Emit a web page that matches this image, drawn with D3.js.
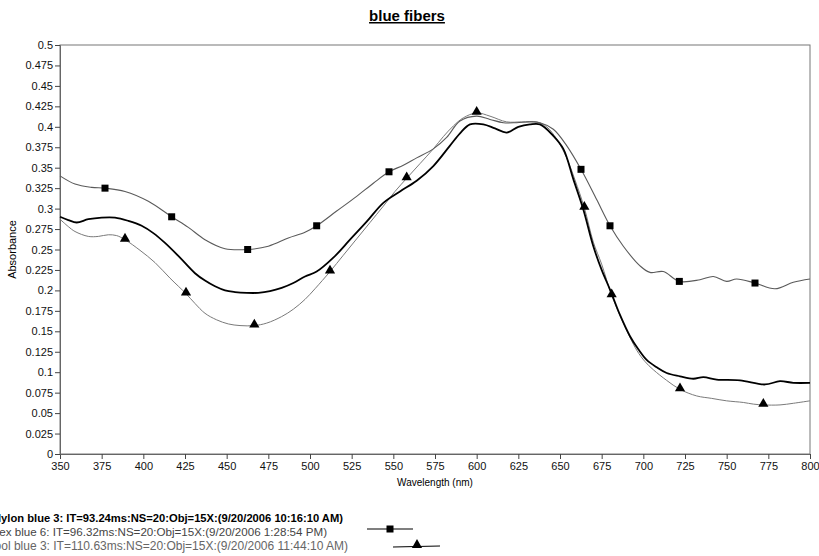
<!DOCTYPE html>
<html>
<head>
<meta charset="utf-8">
<script src="https://cdn.jsdelivr.net/npm/d3@7"></script>
<style>
  body { margin: 0; background: #fff; }
  svg { font-family: Arial, "Liberation Sans", sans-serif; }
</style>
</head>
<body>
<div id="chart"></div>
<script>
// series 1 - squares (grey)
const sqWl  = [350, 359, 369, 377, 389, 403, 417, 427, 437, 449, 462.6, 475, 487, 497, 504, 516, 528, 538, 547.4, 556, 564, 574, 582, 590, 600, 608, 616, 624, 632, 638, 646, 654, 662.6, 672, 680, 688, 698, 704, 712, 721.6, 734, 742, 750, 756, 767, 779, 790, 800];
const sqAbs = [.340, .330, .326, .325, .321, .309, .290, .277, .262, .251, .250, .254, .264, .271, .279, .297, .315, .331, .345, .353, .362, .373, .387, .407, .413, .409, .405, .405, .406, .405, .397, .377, .348, .311, .279, .254, .230, .222, .223, .211, .213, .217, .211, .214, .209, .202, .210, .214];
const sqMarkers = [377, 417, 462.6, 504, 547.4, 662.6, 680, 721.6, 767];

// series 2 - thick black, no markers
const blkWl  = [350, 355, 360, 367, 375, 383, 391, 399, 406, 413, 422, 431, 437, 443, 449, 455, 462, 469, 476, 483, 490, 497, 504, 514, 524, 534, 544, 554, 564, 574, 584, 590, 596, 604, 611, 618, 625, 632, 638, 646, 652, 658, 664, 670, 675, 680, 686, 692, 697, 702, 708, 714, 722, 730, 736, 744, 758, 773, 782, 790, 800];
const blkAbs = [.290, .286, .283, .287, .289, .289, .285, .279, .270, .258, .240, .221, .212, .205, .200, .198, .197, .197, .199, .203, .209, .217, .223, .240, .262, .284, .307, .321, .334, .352, .377, .392, .403, .403, .398, .393, .400, .403, .403, .389, .373, .336, .299, .254, .225, .201, .170, .144, .128, .115, .106, .099, .095, .092, .094, .091, .090, .085, .089, .087, .087];

// series 3 - triangles (light grey)
const triWl  = [350, 355, 359, 367, 373, 379, 384, 389, 398, 407, 416, 425.6, 431, 437, 444, 451, 458, 466.6, 474, 483, 490, 497, 503, 512, 520, 528, 536, 544, 551, 558, 566, 574, 580, 586, 592, 600, 608, 618, 627, 636, 642, 648, 654, 659, 664.6, 670, 675, 681, 688, 696, 701, 706, 714, 722, 732, 741, 750, 760, 766, 772, 782, 790, 800];
const triAbs = [.287, .278, .272, .266, .266, .268, .267, .262, .249, .234, .215, .196, .184, .172, .164, .159, .157, .157, .160, .168, .177, .189, .202, .223, .243, .263, .283, .303, .321, .337, .355, .373, .388, .401, .411, .417, .413, .406, .406, .406, .400, .385, .362, .335, .301, .259, .232, .194, .160, .127, .113, .103, .090, .079, .071, .068, .065, .063, .061, .060, .060, .062, .065];
const triMarkers = [389, 425.6, 466.6, 512, 558, 600, 664.6, 681, 722, 772];

const xTicks = [350, 375, 400, 425, 450, 475, 500, 525, 550, 575, 600, 625, 650, 675, 700, 725, 750, 775, 800];
const yTicks = [0, 0.025, 0.05, 0.075, 0.1, 0.125, 0.15, 0.175, 0.2, 0.225, 0.25, 0.275, 0.3, 0.325, 0.35, 0.375, 0.4, 0.425, 0.45, 0.475, 0.5];

// the legend starts off the left edge in the original, like here
const legendLabels = [
  "Nylon blue 3: IT=93.24ms:NS=20:Obj=15X:(9/20/2006 10:16:10 AM)",
  "Spandex blue 6: IT=96.32ms:NS=20:Obj=15X:(9/20/2006 1:28:54 PM)",
  "Wool blue 3: IT=110.63ms:NS=20:Obj=15X:(9/20/2006 11:44:10 AM)"
];

const W = 819, H = 556;
const margin = {top: 45, right: 9, bottom: 102, left: 60};

const svg = d3.select("#chart").append("svg")
  .attr("width", W).attr("height", H);

const x = d3.scaleLinear().domain([350, 800]).range([margin.left, W - margin.right]);
const y = d3.scaleLinear().domain([0, 0.5]).range([H - margin.bottom, margin.top]);

// title
svg.append("text")
  .attr("x", 407).attr("y", 21)
  .attr("text-anchor", "middle")
  .attr("font-size", "15px").attr("font-weight", "bold")
  .attr("text-decoration", "underline")
  .text("blue fibers");

// frame (top + right)
svg.append("rect")
  .attr("x", x(350)).attr("y", y(0.5))
  .attr("width", x(800) - x(350)).attr("height", y(0) - y(0.5))
  .attr("fill", "none").attr("stroke", "#777").attr("stroke-width", 1);

// axes
const xAxis = svg.append("g")
  .attr("transform", `translate(0,${y(0)})`)
  .call(d3.axisBottom(x).tickValues(xTicks).tickSize(5).tickPadding(3).tickFormat(d3.format("d")));
const yAxis = svg.append("g")
  .attr("transform", `translate(${x(350)},0)`)
  .call(d3.axisLeft(y).tickValues(yTicks).tickSize(5).tickPadding(2).tickFormat(d => String(+d.toFixed(3))));

[xAxis, yAxis].forEach(g => {
  g.selectAll("path").attr("stroke", "#666");
  g.selectAll("line").attr("stroke", "#444");
  g.selectAll("text").attr("font-size", "11px").attr("fill", "#111")
    .attr("font-family", "Arial, 'Liberation Sans', sans-serif");
});

svg.append("text")
  .attr("x", (x(350) + x(800)) / 2).attr("y", 486)
  .attr("text-anchor", "middle").attr("font-size", "10px")
  .text("Wavelength (nm)");

svg.append("text")
  .attr("transform", `translate(16,${(y(0) + y(0.5)) / 2}) rotate(-90)`)
  .attr("text-anchor", "middle").attr("font-size", "11px")
  .text("Absorbance");

// lines
const line = d3.line()
  .x(d => x(d[0])).y(d => y(d[1]))
  .curve(d3.curveCatmullRom.alpha(0.5));

const zip = (a, b) => a.map((v, i) => [v, b[i]]);

svg.append("path").datum(zip(triWl, triAbs))
  .attr("d", line).attr("fill", "none").attr("stroke", "#7a7a7a").attr("stroke-width", 1);
svg.append("path").datum(zip(sqWl, sqAbs))
  .attr("d", line).attr("fill", "none").attr("stroke", "#5a5a5a").attr("stroke-width", 1.1);
svg.append("path").datum(zip(blkWl, blkAbs))
  .attr("d", line).attr("fill", "none").attr("stroke", "#000").attr("stroke-width", 1.8);

// markers
const sqPts = sqMarkers.map(w => [w, sqAbs[sqWl.indexOf(w)]]);
const triPts = triMarkers.map(w => [w, triAbs[triWl.indexOf(w)]]);

svg.selectAll(".sq").data(sqPts).join("rect")
  .attr("class", "sq")
  .attr("x", d => x(d[0]) - 3.5).attr("y", d => y(d[1]) - 3.5)
  .attr("width", 7).attr("height", 7).attr("fill", "#000");

const tri = d3.symbol().type(d3.symbolTriangle).size(45);
svg.selectAll(".tri").data(triPts).join("path")
  .attr("class", "tri")
  .attr("transform", d => `translate(${x(d[0])},${y(d[1]) - 1})`)
  .attr("d", tri).attr("fill", "#000");

// legend
const legendY = [522, 536, 550];
const legendEnd = [343, 327, 348];
const legendSize = [11.2, 11.6, 12];
const legendColor = ["#000", "#444", "#666"];
svg.selectAll(".leg").data(legendLabels).join("text")
  .attr("class", "leg")
  .attr("x", (d, i) => legendEnd[i]).attr("y", (d, i) => legendY[i])
  .attr("text-anchor", "end")
  .attr("font-size", (d, i) => legendSize[i] + "px")
  .attr("font-weight", (d, i) => i === 0 ? "bold" : "normal")
  .attr("fill", (d, i) => legendColor[i])
  .text(d => d);

// legend samples
svg.append("line").attr("x1", 367).attr("x2", 413).attr("y1", 529).attr("y2", 529)
  .attr("stroke", "#000").attr("stroke-width", 1.2);
svg.append("rect").attr("x", 386.5).attr("y", 525.5).attr("width", 7).attr("height", 7).attr("fill", "#000");
svg.append("line").attr("x1", 393).attr("x2", 440).attr("y1", 547).attr("y2", 546)
  .attr("stroke", "#000").attr("stroke-width", 1.2);
svg.append("path").attr("transform", "translate(417,545)").attr("d", tri).attr("fill", "#000");
</script>
</body>
</html>
